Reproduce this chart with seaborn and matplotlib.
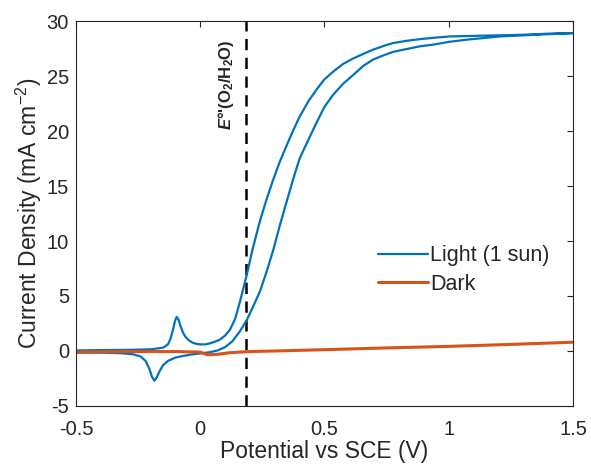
import pandas as pd
import seaborn as sns
import matplotlib.pyplot as plt

# light, anodic sweep (upper branch, -0.5 -> 1.5 V)
light_fwd_v = [-0.5, -0.4, -0.3, -0.2, -0.15, -0.13, -0.12, -0.11, -0.102, -0.095, -0.088,
               -0.08, -0.07, -0.06, -0.045, -0.03, -0.015, 0.0, 0.02, 0.04, 0.06, 0.08,
               0.10, 0.12, 0.14, 0.16, 0.187, 0.21, 0.24, 0.267, 0.294, 0.32, 0.348,
               0.375, 0.40, 0.435, 0.469, 0.50, 0.535, 0.575, 0.616, 0.655, 0.696,
               0.74, 0.777, 0.83, 0.884, 0.95, 1.005, 1.1, 1.206, 1.3, 1.4, 1.5]
light_fwd_j = [0.05, 0.08, 0.1, 0.15, 0.3, 0.6, 1.1, 1.9, 2.7, 3.1, 2.9,
               2.3, 1.7, 1.3, 0.95, 0.75, 0.65, 0.6, 0.6, 0.7, 0.85, 1.05,
               1.4, 1.95, 2.9, 4.5, 6.9, 9.2, 11.8, 13.8, 15.6, 17.2, 18.7,
               20.1, 21.3, 22.7, 23.8, 24.7, 25.4, 26.1, 26.6, 27.0, 27.4,
               27.75, 28.0, 28.2, 28.35, 28.5, 28.6, 28.65, 28.7, 28.75, 28.85, 28.9]
# light, cathodic sweep (lower branch, 1.5 -> -0.5 V)
light_rev_v = [1.5, 1.4, 1.3, 1.206, 1.14, 1.07, 1.0, 0.937, 0.884, 0.83, 0.777,
               0.74, 0.696, 0.655, 0.616, 0.575, 0.535, 0.50, 0.469, 0.435, 0.40,
               0.375, 0.348, 0.32, 0.294, 0.267, 0.24, 0.21, 0.187, 0.16, 0.13,
               0.10, 0.07, 0.04, 0.01, -0.03, -0.07, -0.1, -0.13, -0.15, -0.165,
               -0.175, -0.185, -0.195, -0.205, -0.22, -0.24, -0.27, -0.32, -0.4, -0.5]
light_rev_j = [28.9, 28.8, 28.7, 28.6, 28.45, 28.3, 28.1, 27.85, 27.7, 27.45, 27.2,
               26.9, 26.5, 25.9, 25.1, 24.3, 23.3, 22.2, 20.8, 19.2, 17.5,
               15.7, 13.6, 11.4, 9.2, 7.2, 5.4, 3.9, 2.8, 1.8, 0.9,
               0.35, 0.05, -0.1, -0.2, -0.3, -0.45, -0.6, -0.9, -1.3, -1.9,
               -2.4, -2.7, -2.3, -1.6, -0.9, -0.5, -0.3, -0.2, -0.15, -0.15]

# dark scan
dark_v = [-0.5, -0.3, -0.1, 0.0, 0.03, 0.07, 0.12, 0.2, 0.3, 0.5, 0.75, 1.0, 1.25, 1.5]
dark_j = [-0.1, -0.05, -0.05, -0.1, -0.35, -0.3, -0.15, -0.05, 0.0, 0.12, 0.28, 0.42, 0.6, 0.8]

e0_v = 0.186

light = pd.DataFrame({"V": light_fwd_v + light_rev_v, "J": light_fwd_j + light_rev_j})
light["cond"] = "Light (1 sun)"
dark = pd.DataFrame({"V": dark_v, "J": dark_j})
dark["cond"] = "Dark"
df = pd.concat([light, dark], ignore_index=True)

sns.set_style("white")
plt.rcParams["font.family"] = ["Liberation Sans", "DejaVu Sans"]
plt.rcParams["axes.unicode_minus"] = False
plt.rcParams["mathtext.fontset"] = "custom"
plt.rcParams["mathtext.rm"] = "Liberation Sans"
plt.rcParams["mathtext.bf"] = "Liberation Sans:bold"
plt.rcParams["mathtext.it"] = "Liberation Sans:italic"
plt.rcParams["mathtext.bfit"] = "Liberation Sans:bold:italic"

fig = plt.figure(figsize=(5.91, 4.65), dpi=100)
ax = fig.add_axes([0.1286, 0.1269, 0.8409, 0.8279])

sns.lineplot(data=df, x="V", y="J", hue="cond", sort=False, estimator=None,
             palette={"Light (1 sun)": "#0072BD", "Dark": "#D95319"},
             linewidth=1.6, ax=ax)
# dark trace is drawn a little heavier in the original
ax.lines[1].set_linewidth(2.2)

ax.axvline(e0_v, color="black", linestyle=(0, (4.5, 3)), linewidth=1.8, zorder=1)
ax.text(0.105, 28.3, r"$\mathbfit{E}$°'(O$_\mathbf{2}$/H$_\mathbf{2}$O)", rotation=90,
        ha="center", va="top", fontsize=12, fontweight="bold")

ax.set_xlim(-0.5, 1.5)
ax.set_ylim(-5, 30)
ax.set_xticks([-0.5, 0, 0.5, 1, 1.5])
ax.set_xticklabels(["-0.5", "0", "0.5", "1", "1.5"])
ax.set_yticks([-5, 0, 5, 10, 15, 20, 25, 30])
ax.tick_params(direction="in", length=4, width=0.8, labelsize=14.5, colors="#262626",
               top=True, right=True, pad=5)
ax.tick_params(axis="x", pad=10)
for s in ax.spines.values():
    s.set_color("#262626")
    s.set_linewidth(0.8)

ax.set_xlabel("Potential vs SCE (V)", fontsize=16.5, color="#262626", labelpad=1)
ax.set_ylabel(r"Current Density (mA cm$^{-2}$)", fontsize=16.5, color="#262626", labelpad=2)

ax.legend(handles=ax.lines[:2], labels=["Light (1 sun)", "Dark"],
          loc="upper left", bbox_to_anchor=(0.608, 0.417), frameon=False, fontsize=15.5,
          handlelength=2.3, handletextpad=0.1, labelspacing=0.35, borderpad=0,
          borderaxespad=0)

fig.savefig("out.png", dpi=100)
plt.close(fig)
